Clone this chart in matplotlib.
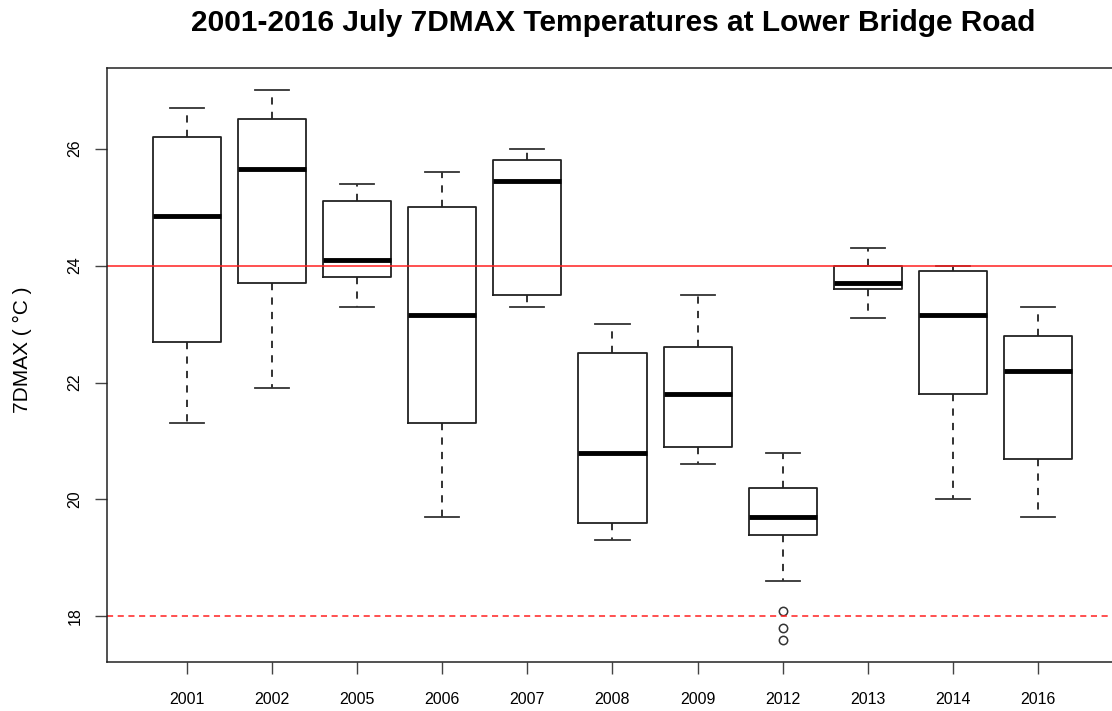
import matplotlib
matplotlib.use('Agg')
import matplotlib.pyplot as plt

plt.rcParams['font.family'] = ['Liberation Sans', 'DejaVu Sans']

# yearly July 7DMAX summaries
years = ['2001', '2002', '2005', '2006', '2007', '2008', '2009', '2012', '2013', '2014', '2016']
whis_lo = [21.3, 21.9, 23.3, 19.7, 23.3, 19.3, 20.6, 18.6, 23.1, 20.0, 19.7]
q1 = [22.7, 23.7, 23.8, 21.3, 23.5, 19.6, 20.9, 19.4, 23.6, 21.8, 20.7]
med = [24.85, 25.65, 24.1, 23.15, 25.45, 20.8, 21.8, 19.7, 23.7, 23.15, 22.2]
q3 = [26.2, 26.5, 25.1, 25.0, 25.8, 22.5, 22.6, 20.2, 24.0, 23.9, 22.8]
whis_hi = [26.7, 27.0, 25.4, 25.6, 26.0, 23.0, 23.5, 20.8, 24.3, 24.0, 23.3]
outliers = {'2012': [18.1, 17.8, 17.6]}
upper_limit = 24
lower_limit = 18

stats = []
for i, y in enumerate(years):
    stats.append(dict(label=y, whislo=whis_lo[i], q1=q1[i], med=med[i],
                      q3=q3[i], whishi=whis_hi[i], fliers=outliers.get(y, [])))

fig = plt.figure(figsize=(11.12, 7.11), dpi=100)
ax = fig.add_axes([0.0962, 0.0689, 0.9092, 0.8355])

ax.bxp(stats, positions=range(1, len(years) + 1), widths=0.8,
       boxprops=dict(color='#222222', lw=1.3),
       medianprops=dict(color='black', lw=3.5, solid_capstyle='butt'),
       whiskerprops=dict(color='#222222', lw=1.3, linestyle=(0, (4, 4))),
       capprops=dict(color='#333333', lw=1.3),
       flierprops=dict(marker='o', markerfacecolor='none', markeredgecolor='#333333',
                       markersize=6, markeredgewidth=1.1),
       capwidths=0.4)

ax.axhline(upper_limit, color='#ff2020', lw=1.1)
ax.axhline(lower_limit, color='#ff2020', lw=1.1, linestyle=(0, (4, 3)))

ax.set_xlim(0.06, 11.94)
ax.set_ylim(17.22, 27.38)
ax.set_yticks([18, 20, 22, 24, 26])
ax.set_xticks(range(1, len(years) + 1))
ax.set_xticklabels(years)
ax.tick_params(axis='both', length=8.5, width=1, color='#444444', labelsize=11.5, direction='out')
ax.tick_params(axis='x', pad=13)
ax.tick_params(axis='y', pad=9)
for lab in ax.get_yticklabels():
    lab.set_rotation(90)
    lab.set_va('center')
for s in ax.spines.values():
    s.set_color('#222222')
    s.set_linewidth(1.1)

ax.set_ylabel('7DMAX ( °C )', fontsize=15)
ax.yaxis.set_label_coords(-0.074, 0.525)
fig.text(0.551, 0.968, '2001-2016 July 7DMAX Temperatures at Lower Bridge Road',
         ha='center', va='center', fontsize=21.5, fontweight='bold')

fig.savefig('out.png', dpi=100)
